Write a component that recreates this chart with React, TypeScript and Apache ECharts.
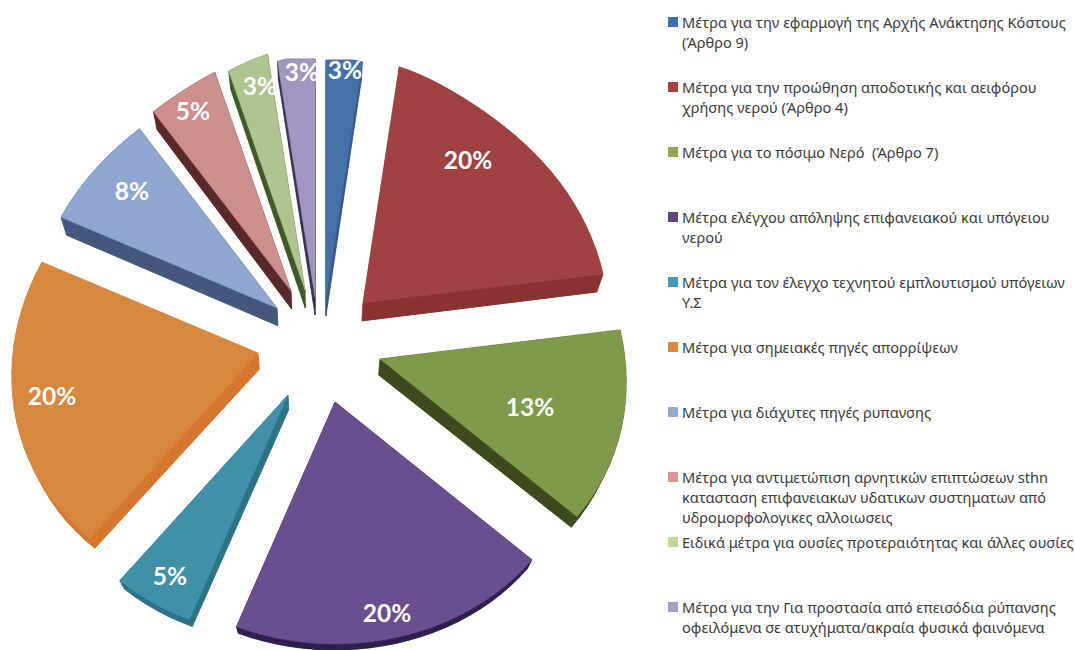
import React, { useEffect, useRef } from "react";
import * as echarts from "echarts";

const categories = [
  "Μέτρα για την εφαρμογή της Αρχής Ανάκτησης Κόστους\n(Άρθρο 9)",
  "Μέτρα για την προώθηση αποδοτικής και αειφόρου\nχρήσης νερού (Άρθρο 4)",
  "Μέτρα για το πόσιμο Νερό  (Άρθρο 7)",
  "Μέτρα ελέγχου απόληψης επιφανειακού και υπόγειου\nνερού",
  "Μέτρα για τον έλεγχο τεχνητού εμπλουτισμού υπόγειων\nΥ.Σ",
  "Μέτρα για σημειακές πηγές απορρίψεων",
  "Μέτρα για διάχυτες πηγές ρυπανσης",
  "Μέτρα για αντιμετώπιση αρνητικών επιπτώσεων sthn\nκατασταση επιφανειακων υδατικων συστηματων από\nυδρομορφολογικες αλλοιωσεις",
  "Ειδικά μέτρα για ουσίες προτεραιότητας και άλλες ουσίες",
  "Μέτρα για την Για προστασία από επεισόδια ρύπανσης\nοφειλόμενα σε ατυχήματα/ακραία φυσικά φαινόμενα",
];
const values = [3, 20, 13.4, 19.6, 5, 20.4, 7.6, 4.8, 3.1, 3.1];
const percentLabels = ["3%", "20%", "13%", "20%", "5%", "20%", "8%", "5%", "3%", "3%"];

const topColors = ["#4472a8", "#a04242", "#7f9a4a", "#6a4f8e", "#4090aa", "#d8873f", "#8ea6d0", "#cc8f8c", "#aec58f", "#a196bf"];
const wallColors = ["#35598a", "#8a3232", "#3c4a1c", "#2f1f50", "#2d7388", "#d5772f", "#43587c", "#5a2a2a", "#3f5a25", "#3b3355"];
const swatchColors = ["#3c6eb0", "#a84040", "#8fa84f", "#60497a", "#3f9bb8", "#e08a3c", "#95a8d5", "#d99694", "#c3d69b", "#a89cc8"];

const legendFirstLineY = [22, 87, 152, 217, 282, 347, 412, 477, 542, 607];
const explodeOffsets = [
  [7, -47], [44, -42], [61, 14], [16, 57], [-31, 50],
  [-61, 8], [-42, -37], [-28, -54], [-14, -55], [-4, -48],
];
const labelCenters = [
  [345, 69], [468, 159], [530, 406], [387, 612], [170, 575],
  [52, 395], [132, 190], [193, 110], [260, 85], [302, 71],
];

const CX = 319;
const CY = 345;
const TOTAL = values.reduce((a, b) => a + b, 0);

function project(deg: number) {
  const t = (deg * Math.PI) / 180;
  const s = Math.sin(t);
  const c = Math.cos(t);
  const narrowing = c > 0 ? 0.12 * Math.pow(c, 4) : 0;
  const ry = c > 0 ? 232 + 10 * Math.pow(c, 10) : 237 - 5 * c;
  return [245 * s * (1 - 0.1 * c - narrowing), -Math.min(ry * c, 238)];
}
function lower(p: number[]) {
  const d = p[1] <= 300 ? 18 : 18 - (p[1] - 300) * 0.035;
  return [p[0] + (CX - p[0]) * 0.022, p[1] + d];
}

function renderSlice(params: any, api: any) {
  const i = params.dataIndex;
  const before = values.slice(0, i).reduce((a, b) => a + b, 0);
  const start = (before / TOTAL) * 360;
  const end = ((before + api.value(0)) / TOTAL) * 360;
  const ax = CX + explodeOffsets[i][0];
  const ay = CY + explodeOffsets[i][1];
  const outline: number[][] = [[ax, ay]];
  const steps = Math.max(4, Math.round((end - start) / 3));
  for (let k = 0; k <= steps; k++) {
    const q = project(start + ((end - start) * k) / steps);
    outline.push([ax + q[0], ay + q[1]]);
  }
  const bottom = outline.map(lower);
  const wallStyle = { fill: wallColors[i], stroke: wallColors[i], lineWidth: 0.5 };
  const children: any[] = [];
  children.push({ type: "polygon", shape: { points: bottom }, style: wallStyle });
  outline.forEach((p, k) => {
    const n = (k + 1) % outline.length;
    children.push({
      type: "polygon",
      shape: { points: [p, outline[n], bottom[n], bottom[k]] },
      style: wallStyle,
    });
  });
  children.push({
    type: "polygon",
    shape: { points: outline },
    style: { fill: topColors[i], stroke: topColors[i], lineWidth: 0.5 },
  });
  children.push({
    type: "text",
    x: labelCenters[i][0],
    y: labelCenters[i][1],
    style: {
      text: percentLabels[i],
      fill: "#ffffff",
      fontFamily: "Lato, 'Open Sans', sans-serif",
      fontWeight: "bold",
      fontSize: 24.5,
      align: "center",
      verticalAlign: "middle",
    },
  });
  return { type: "group", children };
}

function legendGraphics() {
  const out: any[] = [];
  categories.forEach((name, i) => {
    const y = legendFirstLineY[i];
    out.push({ type: "rect", shape: { x: 668, y: y - 5, width: 10, height: 10 }, style: { fill: swatchColors[i] } });
    name.split("\n").forEach((line, k) => {
      out.push({
        type: "text",
        x: 682,
        y: y + k * 20,
        style: {
          text: line,
          fill: "#3a3a3a",
          fontFamily: "'Noto Sans', 'Open Sans', sans-serif",
          fontSize: 14.6,
          align: "left",
          verticalAlign: "middle",
        },
      });
    });
  });
  return out;
}

export default function App() {
  const ref = useRef<HTMLDivElement>(null);
  useEffect(() => {
    document.body.style.margin = "0";
    const chart = echarts.init(ref.current!, undefined, { renderer: "svg" });
    chart.setOption({
      animation: false,
      backgroundColor: "#ffffff",
      graphic: legendGraphics(),
      series: [
        {
          type: "custom",
          coordinateSystem: "none",
          silent: true,
          clip: false,
          renderItem: renderSlice,
          data: values.map((v, i) => ({ name: categories[i], value: [v] })),
        },
      ],
    });
    return () => chart.dispose();
  }, []);
  return <div ref={ref} style={{ position: "absolute", left: 0, top: 0, width: 1075, height: 650 }} />;
}
